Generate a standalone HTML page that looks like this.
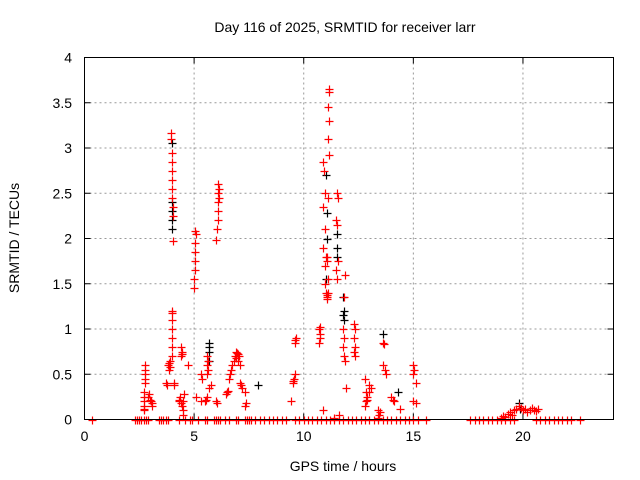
<!DOCTYPE html>
<html><head><meta charset="utf-8"><style>body{margin:0;background:#fff}svg{display:block;font-family:"Liberation Sans",sans-serif}</style></head>
<body>
<svg id="chart" width="640" height="480">
<text x="345" y="32" text-anchor="middle" font-size="14">Day 116 of 2025, SRMTID for receiver larr</text>
<text x="343" y="471" text-anchor="middle" font-size="14">GPS time / hours</text>
<text transform="translate(19,238) rotate(-90)" text-anchor="middle" font-size="14">SRMTID / TECUs</text>
<g id="grid"></g><g id="ticks"></g><g id="marks"></g>
<rect x="84.5" y="57.5" width="529" height="362" fill="none" stroke="#000"/>
</svg>
<script>
const xTicks=[0,5,10,15,20];
const yTicks=[0,0.5,1,1.5,2,2.5,3,3.5,4];
const yTickLabels=["0","0.5","1","1.5","2","2.5","3","3.5","4"];
const redT=[2.7,2.7,2.7,2.7,2.7,2.7,2.75,2.75,2.75,2.75,2.75,2.9,2.95,3.0,3.05,3.1,3.1,3.7,3.75,3.8,3.85,3.9,3.9,3.85,
4.0,4.0,4.0,4.0,4.0,4.0,4.0,3.95,3.95,3.97,3.98,3.99,4.0,4.0,4.0,4.02,4.03,4.05,4.1,4.1,
4.3,4.35,4.3,4.4,4.45,4.4,4.45,4.4,4.45,4.5,4.5,4.55,4.5,4.7,
5.05,5.07,5.05,5.03,5.05,5.02,5.0,5.0,5.1,5.3,5.3,5.35,5.5,5.55,5.6,5.6,5.62,5.6,5.63,5.6,5.7,5.75,
6.0,6.05,6.1,6.12,6.1,6.12,6.1,6.1,6.08,6.05,6.02,
6.5,6.55,6.45,6.6,6.65,6.7,6.75,6.8,6.85,6.9,6.95,6.9,7.0,7.05,7.0,7.1,7.1,7.15,7.2,7.3,7.3,7.35,
9.4,9.5,9.52,9.55,9.6,9.62,9.6,9.65,
10.7,10.72,10.75,10.7,10.72,10.9,10.92,10.95,10.9,10.95,10.9,11.0,10.98,10.95,11.0,11.05,11.05,10.9,
11.15,11.17,11.12,11.13,11.1,11.15,11.1,11.05,11.08,11.1,11.05,11.1,
11.5,11.55,11.45,11.5,11.55,11.45,11.5,11.4,11.6,
11.9,11.85,11.8,11.85,11.8,11.85,11.9,11.95,
12.3,12.35,12.3,12.35,12.3,12.35,12.8,12.85,12.9,12.85,12.8,12.9,13.0,13.05,13.0,
13.4,13.45,13.4,13.5,13.6,13.65,13.6,13.7,13.75,14.0,14.05,14.1,14.4,
15.0,15.05,15.0,15.1,15.0,15.1,
19.0,19.1,19.2,19.3,19.4,19.5,19.6,19.7,19.8,19.9,20.0,20.1,20.2,20.3,20.4,20.5,20.6,20.7,
0.35,2.3,2.4,2.5,2.6,2.7,2.8,2.9,3.4,3.5,3.6,3.7,3.8,4.3,4.6,4.8,4.9,5.2,5.5,5.6,5.9,6.0,6.1,6.2,6.4,6.6,6.9,7.0,7.3,7.4,7.5,7.6,7.8,8.0,8.2,8.4,8.6,8.8,9.0,9.2,9.6,9.8,10.0,10.2,10.4,10.6,10.8,11.0,11.2,11.4,11.6,11.8,12.0,12.2,12.4,12.6,12.8,13.0,13.2,13.4,13.6,13.8,14.0,14.2,14.4,14.6,14.8,15.0,15.2,15.6,17.6,17.8,18.0,18.2,18.4,18.6,18.8,19.0,19.2,19.4,19.6,20.6,20.8,21.0,21.2,21.4,21.6,21.8,22.0,22.2,22.6];
const redV=[0.1,0.12,0.15,0.2,0.25,0.3,0.6,0.55,0.5,0.45,0.4,0.25,0.28,0.22,0.2,0.18,0.15,0.4,0.38,0.6,0.62,0.58,0.65,0.55,
0.7,0.8,0.9,1.0,1.1,1.2,1.18,3.17,3.1,2.95,2.85,2.75,2.65,2.55,2.45,2.35,2.25,1.97,0.38,0.4,
0.2,0.25,0.22,0.18,0.15,0.8,0.75,0.7,0.72,0.1,0.05,0.28,0.2,0.6,
2.08,2.05,1.95,1.85,1.75,1.65,1.55,1.45,0.25,0.2,0.5,0.45,0.2,0.22,0.25,0.7,0.65,0.6,0.55,0.5,0.35,0.38,
0.2,0.18,2.6,2.55,2.5,2.45,2.4,2.3,2.2,2.1,1.98,
0.3,0.32,0.28,0.45,0.5,0.55,0.6,0.65,0.7,0.75,0.73,0.68,0.72,0.7,0.65,0.6,0.4,0.38,0.35,0.3,0.15,0.18,
0.2,0.4,0.42,0.45,0.5,0.85,0.88,0.9,
0.85,0.9,0.95,1.0,1.02,2.85,2.75,2.5,2.35,2.1,1.9,1.8,1.7,1.5,1.4,1.35,1.38,0.1,
3.65,3.62,3.45,3.3,3.1,2.92,2.45,1.8,1.75,1.55,1.33,1.4,
2.5,2.45,2.2,2.15,1.75,1.65,1.55,0.02,0.05,
1.6,1.35,1.0,0.9,0.8,0.7,0.65,0.35,
1.05,1.0,0.9,0.8,0.75,0.7,0.45,0.3,0.25,0.2,0.15,0.22,0.38,0.35,0.3,
0.1,0.05,0.02,0.08,0.85,0.83,0.6,0.55,0.5,0.25,0.22,0.2,0.12,
0.6,0.55,0.5,0.4,0.2,0.18,
0.02,0.04,0.03,0.06,0.08,0.05,0.1,0.12,0.15,0.13,0.1,0.12,0.08,0.1,0.13,0.11,0.09,0.12,
0,0,0,0,0,0,0,0,0,0,0,0,0,0,0,0,0,0,0,0,0,0,0,0,0,0,0,0,0,0,0,0,0,0,0,0,0,0,0,0,0,0,0,0,0,0,0,0,0,0,0,0,0,0,0,0,0,0,0,0,0,0,0,0,0,0,0,0,0,0,0,0,0,0,0,0,0,0,0,0,0,0,0,0,0,0,0,0,0,0,0];
const blackT=[4.0,4.0,4.0,4.0,4.0,5.7,5.7,5.7,5.7,7.9,11.0,11.05,11.05,11.0,11.5,11.5,11.5,11.8,11.85,11.8,11.85,13.6,14.3,19.8,19.85];
const blackV=[2.1,2.2,2.3,2.4,3.05,0.85,0.8,0.75,0.65,0.38,2.7,2.28,2.0,1.55,2.05,1.9,1.8,1.35,1.2,1.15,1.1,0.95,0.3,0.18,0.12];
const X0=84.5,X1=613.5,Y0=419.5,Y1=57.5,TMAX=24.13,VMAX=4;
const xs=t=>X0+t/TMAX*(X1-X0), ys=v=>Y0-v/VMAX*(Y0-Y1);
const NS="http://www.w3.org/2000/svg";
function mk(tag,attrs,parent){const e=document.createElementNS(NS,tag);for(const k in attrs)e.setAttribute(k,attrs[k]);parent.appendChild(e);return e;}
const grid=document.getElementById('grid'),ticks=document.getElementById('ticks'),marks=document.getElementById('marks');
xTicks.forEach((t,i)=>{const x=xs(t);
 if(i>0){const g=mk('line',{x1:x,x2:x,y1:Y1,y2:Y0,stroke:'#999','stroke-dasharray':'2,3'},grid);
 
 }
 mk('line',{x1:x,x2:x,y1:Y0,y2:Y0-6,stroke:'#000'},ticks);mk('line',{x1:x,x2:x,y1:Y1,y2:Y1+6,stroke:'#000'},ticks);
 const l=mk('text',{x:x,y:441,'text-anchor':'middle','font-size':14},ticks);l.textContent=t;
 
 });
yTicks.forEach((v,i)=>{const y=ys(v);
 if(i>0&&i<yTicks.length-1){const g=mk('line',{x1:X0,x2:X1,y1:y,y2:y,stroke:'#999','stroke-dasharray':'2,3'},grid);
 
 }
 mk('line',{x1:X0,x2:X0+6,y1:y,y2:y,stroke:'#000'},ticks);mk('line',{x1:X1,x2:X1-6,y1:y,y2:y,stroke:'#000'},ticks);
 const l=mk('text',{x:72,y:y+5,'text-anchor':'end','font-size':14},ticks);l.textContent=yTickLabels[i];
 
 });
function plus(T,V,col,name){T.forEach((t,i)=>{const x=Math.round(xs(t))+0.5,y=Math.round(ys(V[i]))+0.5;
 const p=mk('path',{d:`M${x-4},${y}h8M${x},${y-4}v8`,stroke:col,'stroke-width':1.2,fill:'none'},marks);
 
 });}
plus(blackT,blackV,'#000','black-point');
plus(redT,redV,'#f00','red-point');
</script>
</body></html>
